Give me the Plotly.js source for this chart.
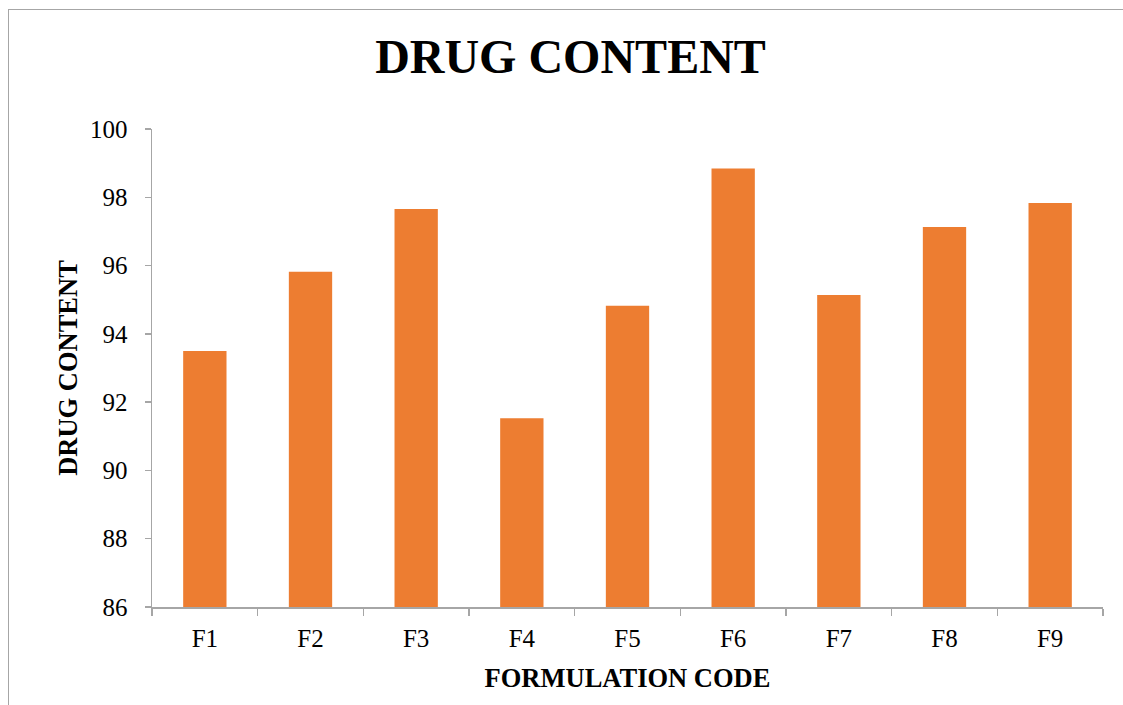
<!DOCTYPE html>
<html>
<head>
<meta charset="utf-8">
<script src="https://cdn.plot.ly/plotly-3.0.1.min.js"></script>
<style>
html, body { margin: 0; padding: 0; background: #fff; overflow: hidden; }
#chart { position: absolute; left: 0; top: 0; width: 1123px; height: 705px; }
#frame { position: absolute; left: 8px; top: 9px; width: 1120px; height: 700px;
  border-left: 1.5px solid #A6A6A6; border-top: 1.5px solid #A6A6A6; pointer-events: none; }
</style>
</head>
<body>
<div id="chart"></div>
<div id="frame"></div>
<script>
const categories = ["F1", "F2", "F3", "F4", "F5", "F6", "F7", "F8", "F9"];
const drugContent = [93.50, 95.82, 97.66, 91.53, 94.82, 98.84, 95.14, 97.13, 97.83];
const yTicks = [86, 88, 90, 92, 94, 96, 98, 100];

const serif = "Liberation Serif";

const trace = {
  type: "bar",
  x: categories,
  y: drugContent,
  marker: { color: "#ED7D31", line: { width: 0 } },
  hoverinfo: "x+y"
};

const layout = {
  width: 1123,
  height: 705,
  margin: { l: 152, r: 20, t: 129, b: 98 },
  paper_bgcolor: "rgba(0,0,0,0)",
  plot_bgcolor: "rgba(0,0,0,0)",
  showlegend: false,
  bargap: 0.59,
  font: { family: serif, color: "#000" },
  title: {
    text: "<b>DRUG CONTENT</b>",
    font: { family: serif, size: 48, color: "#000" },
    x: 0.508, xref: "container", xanchor: "center",
    y: 0.897, yref: "container", yanchor: "bottom"
  },
  xaxis: {
    type: "category",
    showline: true, linecolor: "#A6A6A6", linewidth: 1.5,
    ticks: "outside", tickson: "boundaries", ticklen: 7, tickcolor: "#A6A6A6", tickwidth: 1.5,
    ticklabelstandoff: 8,
    showgrid: false, zeroline: false,
    tickfont: { family: serif, size: 25, color: "#000" },
    title: { text: "<b>FORMULATION CODE</b>", font: { family: serif, size: 26.5, color: "#000" }, standoff: 18 }
  },
  yaxis: {
    range: [86, 100],
    tickvals: yTicks,
    ticktext: yTicks.map(String),
    showline: true, linecolor: "#A6A6A6", linewidth: 1.5,
    ticks: "outside", ticklen: 6, tickcolor: "#A6A6A6", tickwidth: 1.5,
    ticklabelstandoff: 12,
    showgrid: false, zeroline: false,
    tickfont: { family: serif, size: 25, color: "#000" },
    title: { text: "<b>DRUG CONTENT</b>", font: { family: serif, size: 26.5, color: "#000" }, standoff: 4 }
  }
};

Plotly.newPlot("chart", [trace], layout, { displayModeBar: false, staticPlot: true });
</script>
</body>
</html>
